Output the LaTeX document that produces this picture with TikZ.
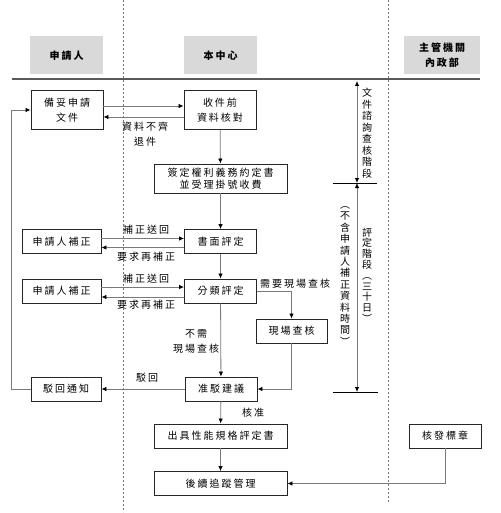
\documentclass[tikz,border=0pt]{standalone}
\usepackage{fontspec}
\setmainfont{Noto Sans CJK TC}[LetterSpace=20]
\newfontfamily\vertcjk{Noto Sans CJK TC}
\usetikzlibrary{arrows.meta,calc,positioning}
\definecolor{headfill}{HTML}{D9D9D9}
\definecolor{flowline}{HTML}{7A7A7A}
\definecolor{rulegray}{HTML}{5A5A5A}
\tikzset{
  box/.style={draw=black!85,line width=0.9pt,minimum width=72pt,minimum height=24pt,inner sep=0pt,align=center,font=\fontsize{10}{14}\selectfont},
  widebox/.style={box,minimum width=133pt},
  head/.style={fill=headfill,minimum width=73pt,minimum height=38pt,inner sep=0pt,align=center,font=\fontsize{10}{15}\selectfont\bfseries},
  flow/.style={draw=flowline,line width=0.8pt,-{Latex[length=5pt,width=4.5pt,color=black]}},
  stage/.style={draw=flowline,line width=0.8pt,{Latex[length=5pt,width=4.5pt,color=black]}-{Latex[length=5pt,width=4.5pt,color=black]}},
  lbl/.style={inner sep=0pt,align=center,font=\fontsize{10}{15}\selectfont},
  vlbl/.style={inner sep=0pt,align=center,font=\vertcjk\fontsize{10}{11.5}\selectfont},
  lane/.style={draw=black!55,dash pattern=on 2pt off 2pt,line width=0.6pt}
}
\begin{document}
\begin{tikzpicture}[x=1pt,y=-1pt]
\useasboundingbox (0,0) rectangle (500,513);
\draw[lane] (123,0)--(123,512);
\draw[lane] (388,0)--(388,502);
\node[head] (hApp) at (66.5,55.5) {申請人};
\node[head] (hCtr) at (220.5,55.5) {本中心};
\node[head,minimum width=76pt] (hGov) at (442,55.5) {主管機關\\內政部};
\draw[rulegray,line width=1.6pt] (12,79)--(480,79);

\node[box,minimum height=39pt,font=\fontsize{10}{15}\selectfont] (prep) at (67,110) {備妥申請\\文件};
\node[box,minimum height=39pt,font=\fontsize{10}{15}\selectfont] (check) at (220,110) {收件前\\資料核對};
\node[widebox,minimum height=29pt,font=\fontsize{10}{12.5}\selectfont] (sign) at (220.5,178.5) {簽定權利義務約定書\\並受理掛號收費};
\node[box] (paper) at (220.5,241.5) {書面評定};
\node[box,minimum width=79pt] (fixA) at (61.5,241.5) {申請人補正};
\node[box] (class) at (220.5,291) {分類評定};
\node[box,minimum width=79pt] (fixB) at (61.5,291) {申請人補正};
\node[box,minimum width=71pt] (site) at (291.5,331) {現場查核};
\node[box] (decide) at (221,389) {准駁建議};
\node[box,minimum width=70pt] (notice) at (66,389) {駁回通知};
\node[widebox] (cert) at (220.5,436) {出具性能規格評定書};
\node[widebox] (follow) at (220.5,483.5) {後續追蹤管理};
\node[box] (badge) at (445,436) {核發標章};

\draw[flow] ([yshift=4pt]prep.east)--([yshift=4pt]check.west);
\draw[flow] ([yshift=-7pt]check.west)--([yshift=-7pt]prep.east);
\node[lbl] (lReturn) at (145,134.5) {資料不齊\\退件};
\draw[flow] (check)--(sign);
\draw[flow] (sign)--(paper);
\draw[flow] ([yshift=3pt]fixA.east)--([yshift=3pt]paper.west);
\draw[flow] ([yshift=-6pt]paper.west)--([yshift=-6pt]fixA.east);
\node[lbl] (lBackA) at (146,229.5) {補正送回};
\node[lbl] (lAskA) at (146,256.5) {要求再補正};
\draw[flow] (paper)--(class);
\draw[flow] ([yshift=4pt]fixB.east)--([yshift=4pt]class.west);
\draw[flow] ([yshift=-6pt]class.west)--([yshift=-6pt]fixB.east);
\node[lbl] (lBackB) at (146,279) {補正送回};
\node[lbl] (lAskB) at (146,305) {要求再補正};
\draw[flow] (class.east)-|(site.north);
\node[lbl] (lSite) at (295,284) {需要現場查核};
\draw[flow] (site.south)|-(decide.east);
\draw[flow] (class)--(decide);
\node[lbl] (lNoSite) at (196,341) {不需\\現場查核};
\draw[flow] (decide)--(notice);
\node[lbl] (lReject) at (147,378) {駁回};
\draw[flow] (notice.west)--++(-19,0)|-(prep.west);
\draw[flow] (decide)--(cert);
\node[lbl] (lOK) at (253,413) {核准};
\draw[flow] (cert)--(follow);
\draw[flow] (badge.south)|-(follow.east);

\coordinate (stTop) at (357,81);
\coordinate (stMid) at (357,183);
\coordinate (stEnd) at (357,392);
\draw[stage] (stTop)--(stMid);
\draw[stage] (stMid)--(stEnd);
\draw[line width=0.9pt] ($(stMid)+(-24,0)$)--($(stMid)+(20,0)$);
\draw[line width=0.9pt] ($(stEnd)+(-24,0)$)--($(stEnd)+(21,0)$);
\node[vlbl] (stDoc) at (367,133) {文\\件\\諮\\詢\\查\\核\\階\\段};
\node[vlbl,font=\vertcjk\fontsize{10}{10.8}\selectfont] (stEval) at (367,275) {評\\定\\階\\段\\︵\\三\\十\\日\\︶};
\node[vlbl,font=\vertcjk\fontsize{10}{11.4}\selectfont] (stNote) at (345,276) {︵\\不\\含\\申\\請\\人\\補\\正\\資\\料\\時\\間\\︶};
\end{tikzpicture}
\end{document}
